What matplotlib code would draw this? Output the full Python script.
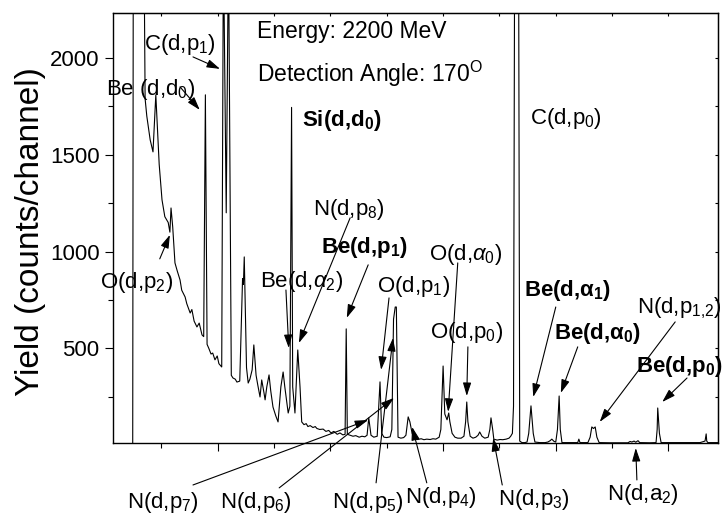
import matplotlib
matplotlib.use('Agg')
from matplotlib import pyplot as plt
from matplotlib.ticker import MultipleLocator, NullFormatter

plt.rcParams['font.family'] = ['Liberation Sans', 'DejaVu Sans']
plt.rcParams['mathtext.fontset'] = 'custom'
plt.rcParams['mathtext.rm'] = 'Liberation Sans'
plt.rcParams['mathtext.it'] = 'Liberation Sans:italic'
plt.rcParams['mathtext.bf'] = 'Liberation Sans:bold'

# spectrum (channel, counts); 2600 = off scale
channel = [14, 49, 50, 69, 71, 74, 80, 85, 90, 96, 101, 106, 112, 115, 117, 120, 124, 128, 133, 136,
           142, 145, 151, 154, 158, 163, 167, 172, 175, 178, 181, 184, 188, 191, 195, 199, 202, 207,
           210, 215, 219, 224, 227, 231, 234, 239, 244, 245.5, 247, 251, 254, 257, 261, 264, 268, 271,
           275, 278, 282, 284, 287, 291, 294, 298, 303, 307, 312, 316, 319, 325, 328, 331, 333, 337,
           342, 346, 349,
           353, 357, 360, 364, 369, 373, 376, 381, 387, 392, 397, 401, 406, 412, 417, 422, 426, 428,
           430, 435, 440, 445, 451, 456, 461, 465, 468, 472, 477, 483, 488, 491, 495, 500, 506, 509,
           512, 515, 517, 520, 525, 530, 534, 538, 541, 545, 550, 555, 561, 566, 571, 577, 582, 587,
           593, 596, 600, 603, 607, 610, 612, 616, 621, 626, 632, 637, 640, 642, 644, 648, 653, 658,
           662, 665, 669, 674, 680, 683, 685, 688, 690, 696, 701, 706, 712, 717, 720, 723, 725, 727,
           734, 736, 740, 745, 749, 752, 756, 760, 763, 772, 781, 786, 790, 793, 797, 800, 803, 806,
           808, 811, 825, 839, 841, 843, 857, 861, 864, 867, 870, 873, 877, 896, 914, 928, 932, 935,
           939, 942, 946, 949, 967, 978, 980, 981, 984, 987, 1020, 1056, 1065, 1067, 1068, 1070, 1088]
counts = [0, 0, 2600, 2600, 1790, 1700, 1577, 1515, 1810, 1450, 1267, 1180, 1150, 1100, 1225, 1127, 941, 900, 853, 800,
          765, 730, 682, 700, 640, 610, 630, 569, 560, 1810, 520, 500, 470, 475, 440, 460, 420, 403,
          2600, 1200, 2600, 360, 346, 340, 325, 330, 860, 830, 972, 400, 320, 340, 388, 517, 360, 310,
          248, 336, 270, 233, 300, 362, 280, 196, 150, 119, 300, 377, 300, 165, 200, 1745, 300, 165,
          491, 300, 119,
          105, 110, 95, 100, 90, 95, 85, 80, 82, 70, 75, 62, 70, 55, 62, 52, 55, 600,
          55, 50, 45, 48, 40, 45, 42, 50, 140, 50, 40, 45, 326, 60, 40, 38, 42, 80,
          650, 713, 713, 40, 35, 38, 50, 145, 120, 60, 30, 28, 32, 27, 30, 28, 32, 30,
          40, 80, 408, 160, 130, 165, 120, 60, 40, 35, 35, 45, 120, 222, 120, 45, 35, 40,
          50, 67, 45, 35, 40, 80, 140, 80, 30, 25, 28, 27, 30, 35, 45, 60, 200, 2600,
          2600, 20, 12, 12, 15, 60, 202, 60, 15, 12, 12, 15, 22, 30, 18, 15, 80, 253,
          80, 12, 12, 12, 30, 12, 12, 40, 93, 85, 93, 40, 12, 11, 11, 11, 18, 15,
          20, 14, 22, 12, 11, 12, 80, 191, 60, 12, 12, 12, 20, 57, 20, 12, 12]

# peak labels and the (channel, counts) point each arrow marks
labels = [r'C(d,p$_1$)', r'Be (d,d$_0$)', r'O(d,p$_2$)', r'Si(d,d$_\mathbf{0}$)', r'C(d,p$_0$)',
          r'N(d,p$_8$)', r'Be(d,p$_\mathbf{1}$)', r'Be(d,$\alpha_2$)', r'O(d,p$_1$)', r'O(d,$\alpha_0$)',
          r'O(d,p$_0$)', r'Be(d,$\mathbf{\alpha_1}$)', r'Be(d,$\mathbf{\alpha_0}$)', r'N(d,p$_{1{,}2}$)',
          r'Be(d,p$_\mathbf{0}$)', r'N(d,p$_7$)', r'N(d,p$_6$)', r'N(d,p$_5$)', r'N(d,p$_4$)',
          r'N(d,p$_3$)', r'N(d,a$_2$)']
bold = [False, False, False, True, False, False, True, False, False, False,
        False, True, True, False, True, False, False, False, False, False, False]
peak_at = [(204, 1944), (168, 1732), (115, 1086), None, None, (344, 527), (429, 657), (326, 501),
           (490, 388), (609, 171), (642, 253), (760, 248), (809, 269), (878, 119), (989, 222),
           (467, 129), (513, 243), (511, 553), (545, 93), (689, 36), (942, -16)]

# layout: text baseline position and arrow tail
text_pos = [(69, 2042), (2, 1810), (-9, 812), (350, 1649), (754, 1660), (369, 1189), (383, 993),
            (275, 817), (483, 791), (575, 956), (577, 553), (744, 770), (797, 548), (944, 682),
            (942, 377), (39, -326), (204, -326), (403, -326), (532, -300), (697, -310), (891, -284)]
arrow_from = [(156, 2006), (133, 1851), (97, 962), None, None, (435, 1174), (467, 931), (321, 801),
              (504, 760), (626, 941), (644, 507), (800, 713), (839, 507), (1012, 636), (1033, 346),
              (156, -207), (309, -222), (481, -196), (571, -196), (705, -207), (944, -181)]

fig = plt.figure(figsize=(7.23, 5.15), dpi=100)
ax = fig.add_axes([113 / 723, 1 - 443 / 515, 605 / 723, 430 / 515])

ax.plot(channel, counts, color='black', lw=0.8)
ax.set_xlim(14, 1088)
ax.set_ylim(10, 2233)

ax.xaxis.set_major_locator(MultipleLocator(200))
ax.xaxis.set_minor_locator(MultipleLocator(100))
ax.xaxis.set_major_formatter(NullFormatter())
ax.yaxis.set_major_locator(MultipleLocator(500))
ax.yaxis.set_minor_locator(MultipleLocator(250))
ax.set_yticks([500, 1000, 1500, 2000])
ax.tick_params(which='major', length=5.8, width=0.8, direction='out', labelsize=16, pad=4)
ax.tick_params(which='minor', length=3.6, width=0.8, direction='out')
for s in ax.spines.values():
    s.set_linewidth(1.0)

# mirrored inner ticks on top and right
top = ax.secondary_xaxis('top')
top.xaxis.set_major_locator(MultipleLocator(100))
top.tick_params(direction='in', length=2.5, width=0.8, labeltop=False)
right = ax.secondary_yaxis('right')
right.yaxis.set_major_locator(MultipleLocator(250))
right.tick_params(direction='in', length=2.5, width=0.8, labelright=False)

fig.text(31 / 723, 1 - 232 / 515, 'Yield (counts/channel)', rotation=90,
         ha='center', va='center', fontsize=24)

ax.text(270, 2104, 'Energy: 2200 MeV', fontsize=16.5, va='baseline')
ax.text(270, 1877, r'Detection Angle: 170$^\mathrm{O}$', fontsize=16.5, va='baseline')

for i in range(len(labels)):
    ax.text(text_pos[i][0], text_pos[i][1], labels[i], fontsize=16, va='baseline', ha='left',
            fontweight='bold' if bold[i] else 'normal')
    if peak_at[i] is not None:
        ax.annotate('', xy=peak_at[i], xytext=arrow_from[i], annotation_clip=False,
                    arrowprops=dict(arrowstyle='-|>,head_length=0.8,head_width=0.25',
                                    mutation_scale=10, color='black', lw=0.8,
                                    shrinkA=0, shrinkB=0))

fig.savefig('out.png', dpi=100)
